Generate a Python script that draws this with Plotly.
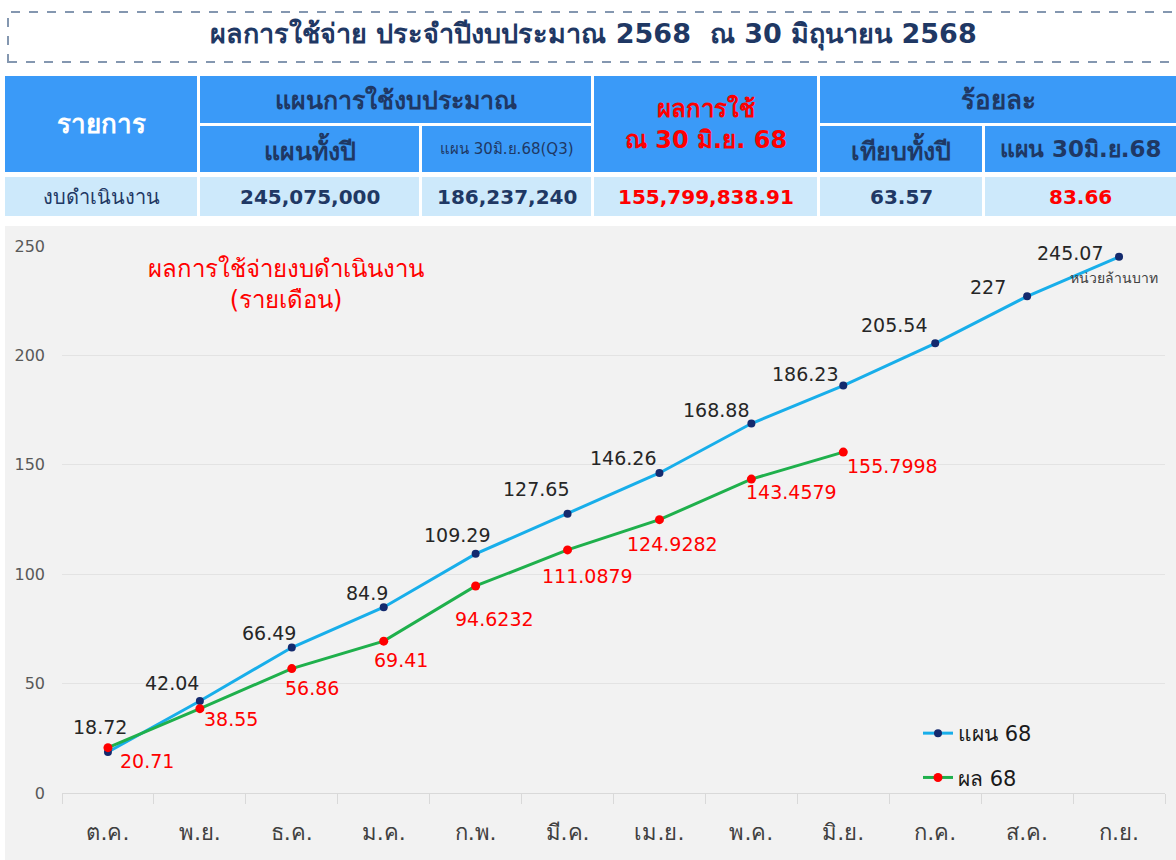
import plotly.graph_objects as go

# ---------------- data ----------------
months = ["ต.ค.", "พ.ย.", "ธ.ค.", "ม.ค.", "ก.พ.", "มี.ค.", "เม.ย.", "พ.ค.", "มิ.ย.", "ก.ค.", "ส.ค.", "ก.ย."]
plan_68 = [18.72, 42.04, 66.49, 84.9, 109.29, 127.65, 146.26, 168.88, 186.23, 205.54, 227, 245.07]
actual_68 = [20.71, 38.55, 56.86, 69.41, 94.6232, 111.0879, 124.9282, 143.4579, 155.7998]
plan_labels = ["18.72", "42.04", "66.49", "84.9", "109.29", "127.65", "146.26", "168.88",
               "186.23", "205.54", "227", "245.07"]
actual_labels = ["20.71", "38.55", "56.86", "69.41", "94.6232", "111.0879", "124.9282",
                 "143.4579", "155.7998"]
y_ticks = [0, 50, 100, 150, 200, 250]

title_text = "ผลการใช้จ่าย ประจำปีงบประมาณ 2568  ณ 30 มิถุนายน 2568"
chart_title = "ผลการใช้จ่ายงบดำเนินงาน<br>(รายเดือน)"
unit_text = "หน่วยล้านบาท"
series_names = ["แผน 68", "ผล 68"]

# table values
row_name = "งบดำเนินงาน"
budget_full_year = 245075000
budget_q3 = 186237240
spent_q3 = 155799838.91
pct_full_year = 63.57
pct_q3 = 83.66

# ---------------- positions / styles ----------------
W, H = 1176, 860
plan_label_offsets = [(-8, 25), (-28, 18), (-23, 15), (-17, 14), (-19, 19), (-32, 25), (-36, 15),
                      (-35, 13), (-38, 12), (-41, 18), (-39, 9), (-49, 4)]
actual_label_offsets = [(39, -13), (31, -10), (20, -19), (17, -19), (19, -33), (20, -26), (13, -24),
                        (40, -13), (49, -14)]

FONT = "DejaVu Sans, Liberation Sans, Arial, sans-serif"
NAVY = "#1f3864"
RED = "#ff0000"
HEAD_BLUE = "#3a9af8"
ROW_BLUE = "#cde9fb"


def X(px):
    return px / W


def Y(py):
    return 1 - py / H


fig = go.Figure()

fig.add_trace(go.Scatter(
    x=months, y=plan_68, mode="lines+markers", name=series_names[0],
    line=dict(color="#18aeea", width=3),
    marker=dict(color="#142a6e", size=8, line=dict(color="#142a6e", width=0)),
    cliponaxis=False, legendgroup="a",
))
fig.add_trace(go.Scatter(
    x=months[:len(actual_68)], y=actual_68, mode="lines+markers", name=series_names[1],
    line=dict(color="#1fb04c", width=3),
    marker=dict(color=RED, size=9),
    cliponaxis=False, legendgroup="b",
))

annotations = []
for m, v, t, (dx, dy) in zip(months, plan_68, plan_labels, plan_label_offsets):
    annotations.append(dict(x=m, y=v, xref="x", yref="y", text=t, showarrow=False,
                            xanchor="center", yanchor="middle", xshift=dx, yshift=dy,
                            font=dict(family=FONT, size=19, color="#262626")))
for m, v, t, (dx, dy) in zip(months, actual_68, actual_labels, actual_label_offsets):
    annotations.append(dict(x=m, y=v, xref="x", yref="y", text=t, showarrow=False,
                            xanchor="center", yanchor="middle", xshift=dx, yshift=dy,
                            font=dict(family=FONT, size=19, color=RED)))

# chart title & unit
annotations.append(dict(x=X(286), y=Y(284), xref="paper", yref="paper", text=chart_title,
                        showarrow=False, xanchor="center", yanchor="middle",
                        font=dict(family=FONT, size=24, color=RED)))
annotations.append(dict(x=X(1114), y=Y(278), xref="paper", yref="paper", text=unit_text,
                        showarrow=False, xanchor="center", yanchor="middle",
                        font=dict(family=FONT, size=14, color="#404040")))

# page title
annotations.append(dict(x=X(594), y=Y(34), xref="paper", yref="paper",
                        text="<b>" + title_text + "</b>", showarrow=False,
                        xanchor="center", yanchor="middle",
                        font=dict(family=FONT, size=27, color=NAVY)))

shapes = []
# grey chart background
shapes.append(dict(type="rect", xref="paper", yref="paper", x0=X(5), x1=1, y0=0, y1=Y(226),
                   fillcolor="#f2f2f2", line=dict(width=0), layer="below"))
# dashed title box
shapes.append(dict(type="rect", xref="paper", yref="paper", x0=X(8), x1=X(1186), y0=Y(62), y1=Y(12),
                   fillcolor="rgba(0,0,0,0)", line=dict(color="#8497b0", width=2, dash="dash")))

# table cells: (x0, y0, x1, y1, fill, text, color, size, bold)
cells = [
    (5, 76, 197, 172, HEAD_BLUE, "รายการ", "white", 26, True),
    (200, 76, 591, 123, HEAD_BLUE, "แผนการใช้งบประมาณ", NAVY, 25, True),
    (200, 126, 419, 172, HEAD_BLUE, "แผนทั้งปี", NAVY, 25, True),
    (422, 126, 591, 172, HEAD_BLUE, "แผน 30มิ.ย.68(Q3)", NAVY, 15, False),
    (594, 76, 817, 172, HEAD_BLUE, "ผลการใช้<br>ณ 30 มิ.ย. 68", RED, 24, True),
    (820, 76, 1176, 123, HEAD_BLUE, "ร้อยละ", NAVY, 26, True),
    (820, 126, 982, 172, HEAD_BLUE, "เทียบทั้งปี", NAVY, 25, True),
    (985, 126, 1176, 172, HEAD_BLUE, "แผน 30มิ.ย.68", NAVY, 23, True),
    (5, 177, 197, 216, ROW_BLUE, row_name, NAVY, 20, False),
    (200, 177, 419, 216, ROW_BLUE, f"{budget_full_year:,.0f}", NAVY, 20, True),
    (422, 177, 591, 216, ROW_BLUE, f"{budget_q3:,.0f}", NAVY, 20, True),
    (594, 177, 817, 216, ROW_BLUE, f"{spent_q3:,.2f}", RED, 20, True),
    (820, 177, 982, 216, ROW_BLUE, f"{pct_full_year:.2f}", NAVY, 20, True),
    (985, 177, 1176, 216, ROW_BLUE, f"{pct_q3:.2f}", RED, 20, True),
]
for x0, y0, x1, y1, fill, txt, col, size, bold in cells:
    shapes.append(dict(type="rect", xref="paper", yref="paper", x0=X(x0), x1=X(x1), y0=Y(y1), y1=Y(y0),
                       fillcolor=fill, line=dict(width=0), layer="below"))
    cx = (x0 + x1) / 2
    cy = (y0 + y1) / 2
    annotations.append(dict(x=X(cx), y=Y(cy), xref="paper", yref="paper",
                            text=("<b>" + txt + "</b>") if bold else txt, showarrow=False,
                            xanchor="center", yanchor="middle",
                            font=dict(family=FONT, size=size, color=col)))

fig.update_layout(
    width=W, height=H,
    margin=dict(l=0, r=0, t=0, b=0, pad=0, autoexpand=False),
    paper_bgcolor="white",
    plot_bgcolor="rgba(0,0,0,0)",
    shapes=shapes,
    annotations=annotations,
    showlegend=True,
    legend=dict(x=X(918), y=Y(713), xanchor="left", yanchor="top",
                bgcolor="rgba(0,0,0,0)", tracegroupgap=14,
                font=dict(family=FONT, size=21, color="#1a1a1a"),
                traceorder="grouped"),
    xaxis=dict(domain=[X(62), X(1165)], type="category", range=[-0.5, 11.5],
               showgrid=False, showline=True, linecolor="#d9d9d9", linewidth=1,
               ticks="outside", tickson="boundaries", ticklen=10, tickcolor="#d9d9d9",
               tickfont=dict(family=FONT, size=22, color="#404040"), ticklabelstandoff=20,
               fixedrange=True),
    yaxis=dict(domain=[Y(793), Y(246)], range=[0, 250], tickvals=y_ticks,
               showgrid=True, gridcolor="#e3e3e3", zeroline=False, showline=False,
               tickfont=dict(family=FONT, size=16, color="#595959"), ticklabelstandoff=16,
               fixedrange=True),
)

fig.write_html(
    "out.html",
    config={"displayModeBar": False},
    post_script=(
        "document.documentElement.style.margin='0';"
        "document.body.style.margin='0';document.body.style.overflow='hidden';"
        "var d=document.getElementById('{plot_id}');"
        "d.style.position='fixed';d.style.top='0px';d.style.left='0px';"
    ),
)
